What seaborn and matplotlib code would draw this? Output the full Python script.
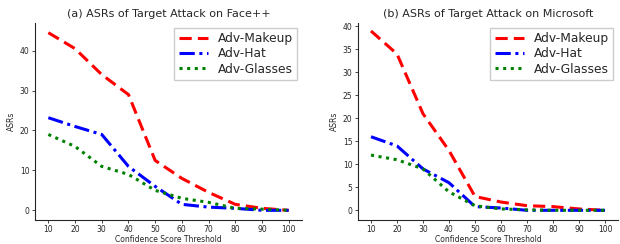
import matplotlib
matplotlib.use("Agg")
import matplotlib.pyplot as plt
import seaborn as sns
import pandas as pd

thresholds = [10, 20, 30, 40, 50, 60, 70, 80, 90, 100]
series_names = ["Adv-Makeup", "Adv-Hat", "Adv-Glasses"]

facepp_makeup = [44.5, 40.5, 34, 29, 12.5, 8, 4.5, 1.5, 0.5, 0]
facepp_hat = [23.2, 21, 19, 11, 6, 1.5, 0.8, 0.5, 0, 0]
facepp_glasses = [19, 16, 11, 9, 5, 3, 2, 0.5, 0.3, 0]

ms_makeup = [39, 34, 21, 13, 3, 1.8, 1, 0.8, 0.3, 0]
ms_hat = [16, 14, 9, 6, 0.8, 0.5, 0, 0, 0, 0]
ms_glasses = [12, 11, 9, 4, 1, 0.3, 0.1, 0, 0, 0]

titles = ["(a) ASRs of Target Attack on Face++", "(b) ASRs of Target Attack on Microsoft"]
xlabel = "Confidence Score Threshold"
ylabel = "ASRs"

colors = ["red", "blue", "green"]
styles = [(0, (4, 2)), (0, (5, 1.5, 1, 1.5)), (0, (1, 1.5))]

sns.set_style("ticks")
plt.rcParams["font.family"] = ["DejaVu Sans"]

fig = plt.figure(figsize=(6.2, 2.44), dpi=100)
ax1 = fig.add_axes([35/620, 1 - 219.5/244, (302-35)/620, (219.5-22.7)/244])
ax2 = fig.add_axes([358/620, 1 - 219.5/244, (618-358)/620, (219.5-22.7)/244])

panels = [
    (ax1, [facepp_makeup, facepp_hat, facepp_glasses]),
    (ax2, [ms_makeup, ms_hat, ms_glasses]),
]

for i, (ax, data) in enumerate(panels):
    for name, vals, c, ls in zip(series_names, data, colors, styles):
        df = pd.DataFrame({"x": thresholds, "y": vals})
        sns.lineplot(data=df, x="x", y="y", ax=ax, color=c, linestyle=ls,
                     linewidth=2.2, label=name)
    ax.set_title(titles[i], fontsize=8.0, pad=4)
    ax.set_xlabel(xlabel, fontsize=5.5, labelpad=0.5)
    ax.set_ylabel(ylabel, fontsize=5.5, labelpad=3)
    ax.set_xticks(thresholds)
    ax.tick_params(labelsize=5.5, length=2.5, width=0.6, pad=1.5)
    for sp in ax.spines.values():
        sp.set_linewidth(0.8)
    sns.despine(ax=ax)
    ax.legend(fontsize=8.8, loc="upper right", handlelength=2.4,
              framealpha=1, edgecolor="#cccccc", fancybox=False,
              borderaxespad=0.4, labelspacing=0.2, borderpad=0.35)

ax1.set_xlim(5, 105)
ax1.set_ylim(-2.3, 47)
ax1.set_yticks([0, 10, 20, 30, 40])
ax2.set_xlim(5, 105)
ax2.set_ylim(-2, 40.8)
ax2.set_yticks([0, 5, 10, 15, 20, 25, 30, 35, 40])

fig.savefig("out.png", dpi=100)
